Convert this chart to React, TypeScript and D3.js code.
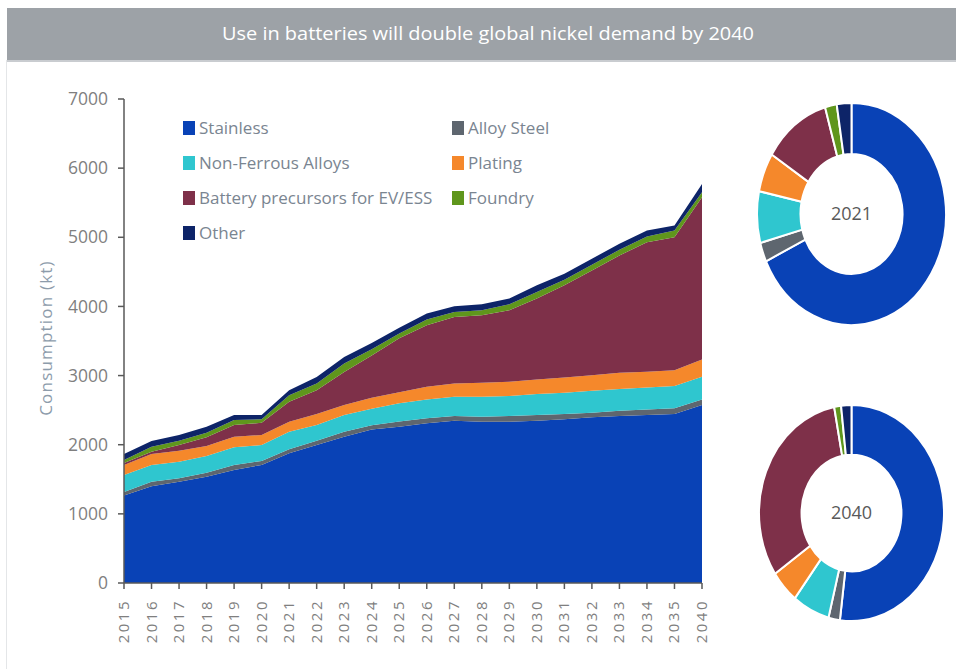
import React from "react";
import * as d3 from "d3";

const years = ["2015","2016","2017","2018","2019","2020","2021","2022","2023","2024","2025","2026","2027","2028","2029","2030","2031","2032","2033","2034","2035","2040"];

const stainless = [1264,1400,1466,1538,1635,1707,1876,1996,2116,2220,2260,2309,2348,2333,2333,2348,2367,2396,2415,2430,2444,2573];
const alloySteel = [53,66,49,58,72,58,58,62,72,60,75,72,67,72,82,82,77,67,77,81,82,82];
const nonFerrous = [246,241,240,241,255,231,254,226,241,240,265,274,279,289,289,303,308,317,313,318,322,328];
const plating = [144,159,159,144,154,144,144,159,144,160,160,183,192,202,206,211,221,226,235,225,230,250];
const battery = [29,33,82,126,168,178,289,346,480,610,780,890,962,976,1034,1169,1332,1515,1698,1876,1924,2347];
const foundry = [43,72,62,66,72,49,96,97,122,90,70,82,72,72,87,96,82,82,82,82,96,72];
const other = [87,82,82,87,73,62,72,95,95,90,80,86,82,87,82,96,87,87,86,86,72,120];

const seriesNames = ["Stainless","Alloy Steel","Non-Ferrous Alloys","Plating","Battery precursors for EV/ESS","Foundry","Other"];
const seriesColors = ["#0942b6","#5e666f","#2fc6cf","#f5882b","#7e3049","#5f961c","#0d2468"];

const donut2021 = [68,2.8,7.5,5.7,11.5,2,2.5];
const donut2040 = [52,2,6.5,5,31.5,1.2,1.8];

const yTicks = [0,1000,2000,3000,4000,5000,6000,7000];
const title = "Use in batteries will double global nickel demand by 2040";
const yTitle = "Consumption (kt)";

const FONT = "'Open Sans', 'DejaVu Sans', sans-serif";

export default function App() {
  const seriesData = [stainless, alloySteel, nonFerrous, plating, battery, foundry, other];
  const rows = years.map((y, i) => {
    const r: any = { year: y };
    seriesNames.forEach((n, k) => (r[n] = seriesData[k][i]));
    return r;
  });
  const stack = d3.stack<any>().keys(seriesNames)(rows);

  const x = d3.scalePoint<string>().domain(years).range([124, 702]);
  const y = d3.scaleLinear().domain([0, 7000]).range([583, 99]);

  const area = d3
    .area<any>()
    .x((d) => x(d.data.year) as number)
    .y0((d) => y(d[0]))
    .y1((d) => y(d[1]))
    .curve(d3.curveLinear);

  const legendItems = [
    { k: 0, x: 183, y: 128 },
    { k: 1, x: 452, y: 128 },
    { k: 2, x: 183, y: 163 },
    { k: 3, x: 452, y: 163 },
    { k: 4, x: 183, y: 198 },
    { k: 5, x: 452, y: 198 },
    { k: 6, x: 183, y: 233 },
  ];

  const pie = d3.pie<number>().sort(null).value((d) => d);
  const arc = d3.arc<any>().innerRadius(54).outerRadius(100);

  const donuts = [
    { data: donut2021, label: "2021", cx: 851.5, cy: 214, rx: 94.5, ry: 111 },
    { data: donut2040, label: "2040", cx: 851.5, cy: 513, rx: 92.5, ry: 108 },
  ];

  return (
    <svg
      width={956}
      height={669}
      style={{ position: "absolute", left: 0, top: 0, display: "block", background: "#ffffff" }}
      fontFamily={FONT}
    >
      <rect x={0} y={0} width={956} height={669} fill="#ffffff" />
      <line x1={6.5} y1={60} x2={6.5} y2={669} stroke="#e4e6e8" strokeWidth={1} />
      <rect x={7} y={8} width={949} height={52} fill="#9da2a7" />
      <rect x={7} y={60} width={949} height={2} fill="#c9ccd0" />
      <text
        x={488}
        y={40}
        textAnchor="middle"
        fill="#ffffff"
        fontSize={19}
        textLength={532}
        lengthAdjust="spacingAndGlyphs"
      >
        {title}
      </text>

      {/* areas */}
      {stack.map((s, k) => (
        <path key={k} d={area(s as any) as string} fill={seriesColors[k]} />
      ))}

      {/* y axis */}
      <line x1={124} y1={99} x2={124} y2={583} stroke="#595959" strokeWidth={1.5} />
      {yTicks.map((t) => (
        <g key={t}>
          <line x1={118} y1={y(t)} x2={124} y2={y(t)} stroke="#595959" strokeWidth={1.5} />
          <text x={108} y={y(t)} dy="0.35em" textAnchor="end" fontSize={17.5} fill="#7f7f7f">
            {t}
          </text>
        </g>
      ))}
      <text
        transform={`translate(52,338) rotate(-90)`}
        textAnchor="middle"
        fontSize={17}
        letterSpacing={1.2}
        fill="#8d9cab"
      >
        {yTitle}
      </text>

      {/* x axis */}
      <line x1={124} y1={583} x2={702} y2={583} stroke="#595959" strokeWidth={1.5} />
      {years.map((yr) => (
        <g key={yr}>
          <line x1={x(yr)} y1={583} x2={x(yr)} y2={589} stroke="#595959" strokeWidth={1.5} />
          <text
            transform={`translate(${(x(yr) as number) + 5},599) rotate(-90)`}
            textAnchor="end"
            fontSize={15}
            letterSpacing={2.5}
            fill="#7f7f7f"
          >
            {yr}
          </text>
        </g>
      ))}

      {/* legend */}
      {legendItems.map((it) => (
        <g key={it.k}>
          <rect x={it.x} y={it.y - 7} width={12} height={14} fill={seriesColors[it.k]} />
          <text x={it.x + 16} y={it.y} dy="0.35em" fontSize={17} fill="#7a8591">
            {seriesNames[it.k]}
          </text>
        </g>
      ))}

      {/* donuts */}
      {donuts.map((dn) => (
        <g key={dn.label}>
          <g transform={`translate(${dn.cx},${dn.cy}) scale(${dn.rx / 100},${dn.ry / 100})`}>
            {pie(dn.data).map((p, i) => (
              <path
                key={i}
                d={arc(p) as string}
                fill={seriesColors[i]}
                stroke="#ffffff"
                strokeWidth={2}
                vectorEffect="non-scaling-stroke"
              />
            ))}
          </g>
          <text x={dn.cx} y={dn.cy} dy="0.35em" textAnchor="middle" fontSize={18} fill="#595959">
            {dn.label}
          </text>
        </g>
      ))}
    </svg>
  );
}
